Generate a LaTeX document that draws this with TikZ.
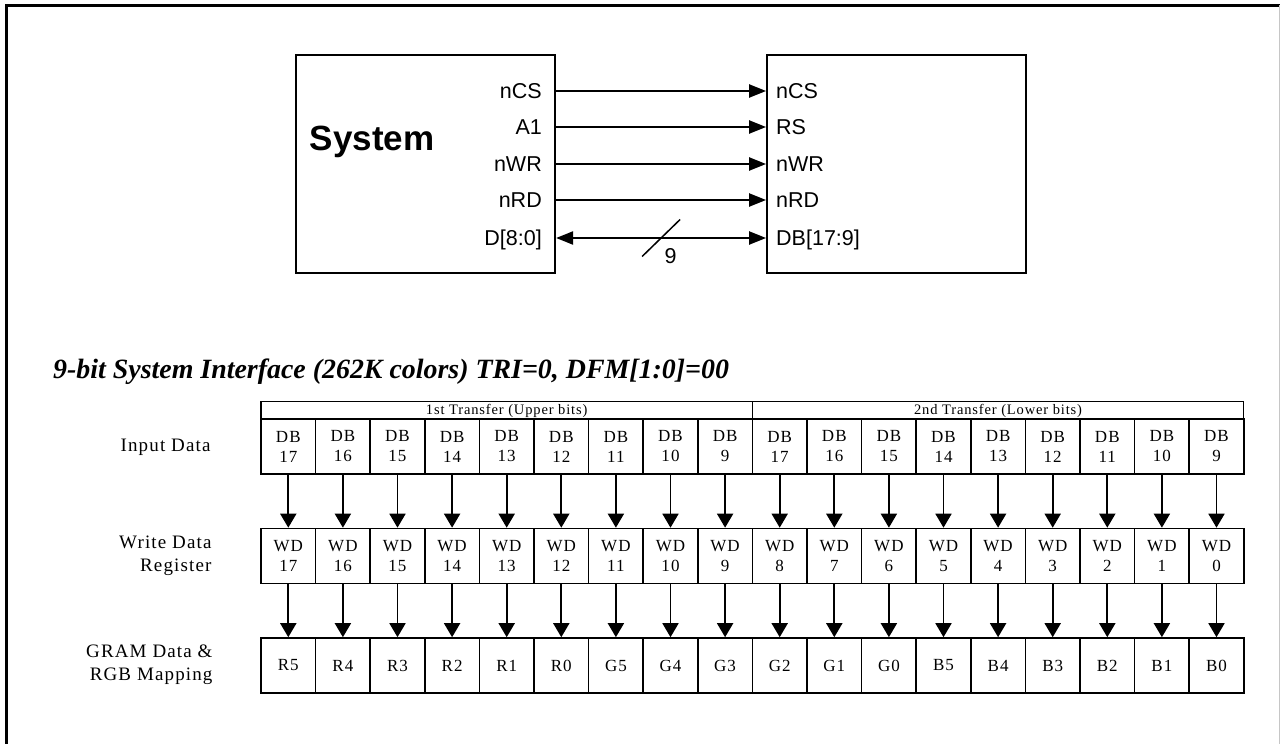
\documentclass[tikz,border=0pt]{standalone}
\usepackage{fontspec}
\setmainfont{Liberation Serif}
\newfontfamily\sigfont{Liberation Sans}
\newfontfamily\tabfont[LetterSpace=6]{Liberation Serif}
\usepackage{tikz}
\usetikzlibrary{arrows.meta, positioning, calc}
\tikzstyle{block} = [rectangle, draw, minimum width=259pt, minimum height=218pt, line width=2.2pt]
\tikzstyle{sig} = [font=\sigfont\fontsize{21.5}{24}\selectfont, text height=15.5pt, text depth=0pt, inner sep=2pt]
\tikzstyle{sigarrow} = [line width=2.2pt, -{Triangle[length=17pt,width=13pt]}]
\tikzstyle{busarrow} = [line width=2.2pt, {Triangle[length=17pt,width=13pt]}-{Triangle[length=17pt,width=13pt]}]
\tikzstyle{cell} = [rectangle, draw, line width=1.6pt, minimum width=54.6pt, minimum height=55pt, inner sep=0pt, align=center, font=\tabfont\fontsize{17}{20}\selectfont]
\tikzstyle{hdr} = [rectangle, draw, line width=1.2pt, minimum width=491.4pt, minimum height=17.5pt, inner sep=0pt, font=\tabfont\fontsize{14.5}{16}\selectfont]
\tikzstyle{rowlabel} = [anchor=east, align=right, font=\tabfont\fontsize{19}{23}\selectfont]
\tikzstyle{bitarrow} = [line width=1.8pt, -{Triangle[length=14pt,width=16pt]}]

\begin{document}
\begin{tikzpicture}[x=1pt, y=-1pt]
        \useasboundingbox (0,0) rectangle (1280,744);

        % Frame
        \draw[line width=3pt] (6.5,744) -- (6.5,5) -- (1280,5);
        \draw[gray!45, line width=1pt] (1279.5,5) -- (1279.5,744);

        % Host and LCD blocks
        \node [block] (sys) at (425.5,164) {};
        \node [block, right=210pt of sys] (lcd) {};
        \node [anchor=base, font=\sigfont\bfseries\fontsize{35}{40}\selectfont] (systxt) at (372,150) {System};

        \node [sig, anchor=east] (lnCS) at (544,91) {nCS};
        \node [sig, anchor=east] (lA) at (544,127) {A1};
        \node [sig, anchor=east] (lnWR) at (544,164) {nWR};
        \node [sig, anchor=east] (lnRD) at (544,200) {nRD};
        \node [sig, anchor=east] (lD) at (544,238) {D[8:0]};

        \node [sig, anchor=west] (rnCS) at (774,91) {nCS};
        \node [sig, anchor=west] (rRS) at (774,127) {RS};
        \node [sig, anchor=west] (rnWR) at (774,164) {nWR};
        \node [sig, anchor=west] (rnRD) at (774,200) {nRD};
        \node [sig, anchor=west] (rDB) at (774,238) {DB[17:9]};

        % Connect signals
        \draw [sigarrow] (sys.east |- lnCS) -- (lcd.west |- rnCS);
        \draw [sigarrow] (sys.east |- lA) -- (lcd.west |- rRS);
        \draw [sigarrow] (sys.east |- lnWR) -- (lcd.west |- rnWR);
        \draw [sigarrow] (sys.east |- lnRD) -- (lcd.west |- rnRD);
        \draw [busarrow] (sys.east |- lD) -- (lcd.west |- rDB);

        % Bus width mark
        \path (sys.east |- lD) -- (lcd.west |- rDB) coordinate[pos=0.5] (bw);
        \draw [line width=1.5pt] ($(bw)+(-19,18.5)$) -- ($(bw)+(19,-18.5)$);
        \node [sig, anchor=center] (bwtxt) at ($(bw)+(9.5,17.5)$) {9};

        % Title
        \node [anchor=base west, inner sep=0pt, font=\bfseries\itshape\fontsize{27.9}{32}\selectfont] (title) at (53,378) {9-bit System Interface (262K colors) TRI=0, DFM[1:0]=00};

        % Transfer headers
        \node [hdr] (hdrA) at (506.7,410.5) {1st Transfer (Upper bits)};
        \node [hdr] (hdrB) at (998.1,410.5) {2nd Transfer (Lower bits)};

        % Row labels
        \node [rowlabel] (lblin) at (214,447) {Input Data};
        \node [rowlabel] (lblwd) at (215,556) {Write Data\\Register};
        \node [rowlabel] (lblgr) at (216,665) {GRAM Data \&\\RGB Mapping};

        % Bit cells
        \foreach \n [count=\i from 0] in {17,16,15,14,13,12,11,10,9,17,16,15,14,13,12,11,10,9}
            \node [cell] (db\i) at ({288.3+54.6*\i},446.5) {DB\\\n};
        \foreach \n [count=\i from 0] in {17,16,15,14,13,12,11,10,9,8,7,6,5,4,3,2,1,0}
            \node [cell] (wd\i) at ({288.3+54.6*\i},556) {WD\\\n};
        \foreach \n [count=\i from 0] in {R5,R4,R3,R2,R1,R0,G5,G4,G3,G2,G1,G0,B5,B4,B3,B2,B1,B0}
            \node [cell] (gr\i) at ({288.3+54.6*\i},665.5) {\n};

        % Connect bits
        \foreach \i in {0,...,17} {
            \draw [bitarrow] (db\i) -- (wd\i);
            \draw [bitarrow] (wd\i) -- (gr\i);
        }
    \end{tikzpicture}
\end{document}
